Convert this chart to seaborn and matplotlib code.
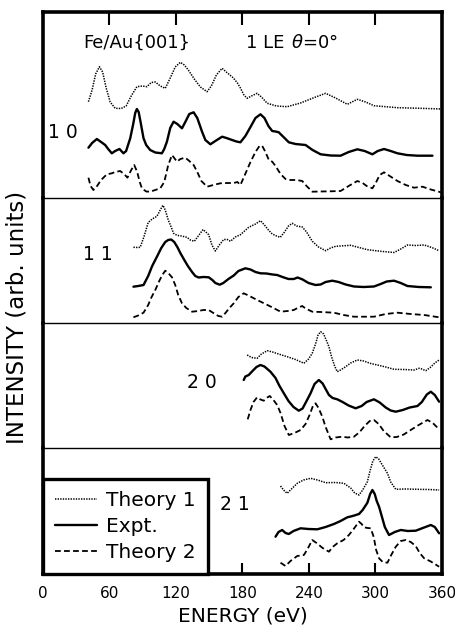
import numpy as np
import matplotlib
matplotlib.use("Agg")
import matplotlib.pyplot as plt
from matplotlib.lines import Line2D
import seaborn as sns

# ---------------- data (energy in eV, intensity in arb. units) ----------------
beams = ["1 0", "1 1", "2 0", "2 1"]
series_names = ["Theory 1", "Expt.", "Theory 2"]
xticks = [0, 60, 120, 180, 240, 300, 360]

# beam 10
b10_t1_e = [41, 44.3, 47.5, 50.9, 53.8, 57, 60.6, 65.1, 70.5, 75, 79.6, 84.7, 89.5, 93.8, 97.6, 101.3, 105.8, 110.3,
            114.8, 119.3, 123.9, 127.5, 131.1, 136.5, 142, 148, 151.9, 156.4, 161.6, 166.4, 171.8, 175.4, 178.1, 181.3,
            184.2, 188.1, 193.2, 197.1, 202.3, 210.7, 220.3, 232.4, 244.4, 255, 264, 274.6, 283.6, 291.1, 298.6, 319.8,
            340.9, 359]
b10_t1_i = [8.3, 20, 36, 43.3, 38, 22, 8, 1.7, 1.5, 4, 14, 23.3, 24, 23.3, 27.5, 28, 24, 21.7,
            32, 43, 47.7, 45, 40, 31, 23, 18.3, 24, 35, 41.7, 37, 32, 27, 22, 15,
            11.7, 14, 16.7, 13, 6.7, 4, 3.3, 7, 12.3, 16.7, 12, 5.7, 10.7, 8, 4.3, 2.3,
            1.7, 1]
b10_ex_e = [41, 44.3, 48.6, 52.4, 56.1, 58.8, 62.1, 65.1, 69, 72.6, 75, 78.7, 81.4, 83.2, 84.7, 86.3, 88.2, 90.7,
            93.1, 96.7, 101.3, 107.3, 109.4, 111.8, 114.8, 117.8, 121.2, 125.4, 128.4, 132, 135.9, 139.2, 143.5, 146.5,
            151, 155.5, 161.6, 165.5, 170.6, 174.5, 178.1, 182.6, 187.2, 191.7, 196.2, 199.8, 203.4, 206.8, 209.8,
            212.7, 217, 221.8, 227.8, 236.9, 243.2, 250.5, 259.5, 268.5, 275.8, 283.6, 290.2, 297.2, 302, 307.7, 313.7,
            319.8, 328.2, 337.9, 351.4]
b10_ex_i = [8.3, 13, 17, 14, 11, 7, 2.7, 5, 7, 2.7, 5, 17.7, 32, 43, 47, 44, 33, 17.7,
            11, 6, 3.5, 2.7, 7, 14.3, 28, 34.3, 32, 27.7, 34, 42, 43.7, 38, 24.3, 16,
            11.7, 15, 19.3, 18, 16, 14.5, 13.7, 20, 29, 38, 41.7, 38, 30, 25, 24.5,
            23.7, 19, 13.7, 12, 11, 6, 1.7, 0.5, 0.3, 4, 6.7, 5, 1.7, 5, 7, 5,
            2.7, 1, 0.3, 0.3]
b10_t2_e = [41, 42.9, 45.5, 48.8, 52.4, 57.6, 62.1, 65.1, 69.6, 73.2, 76.2, 79.6, 82.3, 85, 87.3, 89.2, 93.1, 96.7,
            101.3, 105.8, 109.4, 113, 116.4, 118.4, 120.9, 123.9, 128.4, 132, 135.9, 139.2, 142.9, 148, 153.7, 160,
            166.4, 172.1, 175.4, 178.1, 181.7, 187.2, 191.7, 195.3, 197.7, 200.7, 203.8, 206.8, 209.8, 214.3, 218.8,
            223.3, 228.8, 233.9, 237.8, 243, 250.5, 259.5, 268.5, 275.8, 283.6, 288.4, 292, 297.2, 300.2, 303.8, 307.7,
            312.8, 319.8, 327.3, 334.8, 342.4, 349.9, 359]
b10_t2_i = [15.3, 7, 3, 7, 13, 18.7, 19.7, 21, 22, 19, 15.3, 23, 28, 21, 11, 4.7, 1.5, 1.3,
            3, 4.7, 11, 28, 38, 35, 31.3, 34, 35.3, 32, 28, 21, 12, 6.3, 8, 9.7,
            10, 10, 11, 8, 17, 31, 41, 47, 47.3, 41, 33, 31.3, 27, 19, 14,
            13, 13, 12, 7, 1.3, 1.5, 1.7, 2, 7, 12, 10, 7, 4.7, 10, 18, 20.7,
            17, 12, 8, 5.3, 6.3, 3.5, 0.7]

# beam 11
b11_t1_e = [81.6, 85.9, 87.7, 91.3, 94.9, 98.5, 102.8, 105.8, 108.2, 110.3, 113, 114.8, 117.8, 120.9, 124.8, 129.9,
            132.9, 136.5, 140.1, 144.4, 146.9, 149.5, 152.4, 155.5, 159.1, 163, 166.4, 169.1, 173.6, 178.1, 185.6,
            191.7, 196.2, 199.8, 203.4, 206.8, 210.7, 214.1, 217.9, 221.5, 224.9, 228.8, 233.9, 237.8, 243, 248.6,
            255, 259.5, 264, 277.6, 292.7, 304.7, 316.7, 322.8, 328.8, 336.3, 343.9, 350.8, 357.4]
b11_t1_i = [5.7, 5.5, 5.7, 17, 30.5, 34, 36.7, 43, 47.7, 43, 33, 28.3, 19.7, 17.7, 17, 15.7,
            13, 11.7, 17, 23.5, 21, 18.3, 8, 2, 8, 13.5, 13.5, 11.7, 16, 18.3, 25.7,
            29, 32.3, 28, 23, 19, 17, 15.7, 21, 27, 29.7, 27, 26, 21, 11.7, 6,
            2.3, 5, 6.7, 7.7, 3.3, 1.7, 0.5, 4, 8, 7.5, 8, 5.5, 2.3]
b11_ex_e = [81.6, 85.9, 90.7, 94.9, 98.5, 102.8, 106.7, 110.3, 113, 115.7, 118.4, 121.2, 123.9, 127.5, 130.7, 134.5,
            137.4, 140.4, 144.7, 149.5, 152.8, 155.5, 159.4, 162.7, 167.3, 172.1, 176.3, 182.6, 187.2, 191.7, 196.2,
            201.6, 207.1, 211.3, 216.1, 221.5, 226.3, 229.7, 233.9, 239.6, 245.9, 250.5, 255, 261, 266.7, 273.1,
            280.6, 289.3, 298.6, 304.7, 310.1, 316.7, 322.8, 328.8, 339.1, 349.9]
b11_ex_i = [1.3, 2, 3, 12, 22, 31.3, 40, 46, 48, 48.5, 46, 41, 35, 28, 22, 16,
            12, 10.5, 11, 10.7, 8, 5, 3.3, 5, 9, 12.5, 17, 19.7, 18.5, 16, 14.7,
            14.5, 13.5, 13, 11, 9, 9, 10.5, 8.7, 5, 3, 3.5, 6, 7.3, 6, 3.5,
            1.5, 1, 1.5, 4, 6.5, 7.3, 5, 2, 1, 0.7]
b11_t2_e = [81.6, 85.9, 90.7, 94.9, 98, 101.3, 104.9, 107.6, 110.3, 113, 116.4, 119.3, 122, 125.4, 129.3, 134.5,
            140.1, 144.7, 149.5, 153.7, 158.2, 161.6, 164.6, 168.2, 172.1, 176.3, 181.1, 185.4, 193.2, 200.7, 207.1,
            214.3, 220.6, 226.3, 229.7, 233.9, 236.9, 243, 250.5, 262.5, 271.2, 280.6, 298.6, 309.2, 319.8, 331.8,
            343.9, 357.4]
b11_t2_i = [0.7, 2.5, 5.3, 13, 21, 28, 37, 43, 47.3, 45, 40.7, 33, 23, 14.7, 10, 6.3,
            7, 8, 8, 5, 2, 1.3, 5, 10, 14.7, 21, 24.7, 22.5, 18, 14, 10.5,
            6.3, 7, 8, 10, 12, 9.5, 6.3, 6, 5.3, 3, 1.3, 1.3, 4, 5.3, 4,
            3, 0.7]

# beam 20
b20_t1_e = [184.2, 188.1, 193.2, 197.1, 202.3, 207.1, 212.5, 220.3, 227.8, 235.4, 239.6, 242.9, 245.9, 248.2, 250.5,
            253.2, 255.9, 258, 260.4, 263.1, 265.5, 268.5, 273.1, 277.6, 283.6, 289.3, 295.7, 301.7, 309.2, 316.7,
            325.5, 334.8, 339.3, 341.8, 345.4, 349.9, 353.5, 357.4]
b20_t1_i = [17, 14.5, 13.7, 18, 21.3, 20, 18, 15.3, 12.5, 8.7, 13, 18.7, 28, 37, 40.3,
            38, 31, 25.3, 15, 6, 0.3, 2, 5.3, 9, 12, 11, 8.5, 7, 5, 2.7,
            2.5, 2, 3.7, 3, 1.3, 5, 9, 12]
b20_ex_e = [181.1, 182.6, 185.6, 189, 192.6, 196.2, 199.8, 205.2, 209.8, 213.4, 217.3, 221.5, 226, 230.8, 234.2,
            237.8, 241.4, 245, 248.9, 252.3, 255, 258, 261.3, 265.5, 270.3, 275.7, 282.1, 287.5, 292, 298.6, 303.8,
            309.2, 313.7, 318.3, 324.6, 330.9, 337.9, 341.8, 346.3, 349.9, 353.5, 357.4]
b20_ex_i = [32, 35.5, 37, 41, 45, 47, 45.5, 40.3, 34, 26, 18.7, 11, 5, 1.3, 3.5,
            11, 18.7, 28, 32, 28.5, 23, 17, 14, 12.7, 10, 6.5, 3.7, 6, 10, 12.7, 9.5,
            4.5, 1.5, 0.3, 2, 4.5, 6, 10, 17.5, 20.3, 17, 10.3]
b20_t2_e = [184.7, 187.2, 189.9, 193.2, 196.2, 199.2, 201.6, 204.6, 207.9, 211.3, 214.3, 217.9, 221.8, 226.9, 232.4,
            236.9, 240.5, 243.7, 245.9, 248.6, 252, 255, 259.5, 264, 270.1, 274.9, 280.6, 285.7, 290.2, 294.8, 298.6,
            302.9, 307.4, 313.7, 319.2, 325.5, 331.8, 339, 346.9, 351.7, 357.4]
b20_t2_i = [20.7, 30, 38, 42.7, 40.5, 39.3, 42, 44, 40, 35, 27, 14, 5, 7, 10,
            16, 25, 34.5, 36.7, 32, 23.3, 13, 0.7, 2.5, 3.3, 2.5, 3.3, 8, 14, 19, 20,
            16, 9, 2.7, 3, 5.5, 10, 15, 20, 17, 10.7]

# beam 21
b21_t1_e = [214.3, 217, 220.3, 224.2, 229.4, 235.1, 241.4, 247.7, 255, 264, 271.5, 277.6, 281.2, 285.1, 288.4, 292.7,
            294.8, 297.6, 300.2, 302.9, 305.6, 310.8, 313.7, 318.3, 327.3, 337.9, 348.1, 357.4]
b21_t1_i = [9, 5, 1.7, 6, 11.7, 15, 16.7, 15, 12.3, 12.5, 11.7, 7, 2, 0, 5, 13.3,
            23, 34, 38.3, 36, 31, 21.7, 13, 5.7, 6, 5.7, 5.5, 5]
b21_ex_e = [209.8, 212.5, 215.8, 218.8, 221.8, 226, 232.4, 239.6, 247.5, 255, 262.5, 268.5, 274.6, 279.4, 285.1,
            288.4, 292.7, 295.2, 297.2, 299.3, 301.1, 303.2, 305.6, 308.4, 312.2, 317.4, 322.8, 329.1, 336.3, 342.7,
            349.9, 353.5, 357.4]
b21_ex_i = [0.3, 5, 7, 4, 3, 6, 8.7, 8, 7.7, 10, 13, 16, 19.7, 21, 23,
            27, 34.3, 43, 47, 43, 36, 30.3, 21, 10, 2, 5, 7, 6, 6.3, 9,
            12, 10, 3.7]
b21_t2_e = [214.3, 218.8, 223.3, 229.4, 235.4, 238.7, 242.9, 246.8, 252.3, 258, 261.3, 265.5, 271.2, 276, 280.3,
            285.1, 287.5, 289.6, 292.9, 295.7, 298.4, 300.6, 303.2, 306.5, 310.8, 313.7, 318.3, 322.8, 327.3, 331.8,
            336.3, 339.9, 343.9, 349.9, 357.4]
b21_t2_i = [4.3, 1, 6, 11, 12, 18, 27, 24, 19, 15.3, 20, 23.7, 27, 32, 38,
            45.3, 43, 39.7, 39, 38.7, 30, 17, 8.7, 5, 4.3, 11, 20.3, 26, 27, 25,
            21, 14, 8.7, 5.5, 0.3]

curves = {
    "1 0": [(b10_t1_e, b10_t1_i), (b10_ex_e, b10_ex_i), (b10_t2_e, b10_t2_i)],
    "1 1": [(b11_t1_e, b11_t1_i), (b11_ex_e, b11_ex_i), (b11_t2_e, b11_t2_i)],
    "2 0": [(b20_t1_e, b20_t1_i), (b20_ex_e, b20_ex_i), (b20_t2_e, b20_t2_i)],
    "2 1": [(b21_t1_e, b21_t1_i), (b21_ex_e, b21_ex_i), (b21_t2_e, b21_t2_i)],
}

# ---------------- layout / style ----------------
offsets = {"1 0": [88, 42, 5], "1 1": [70, 35, 5], "2 0": [76, 36, 8], "2 1": [79, 37, 7]}
panel_h = {"1 0": 186, "1 1": 125, "2 0": 125, "2 1": 126}
styles = [dict(linestyle=(0, (0.9, 0.8)), linewidth=1.1),
          dict(linestyle="-", linewidth=1.7),
          dict(linestyle=(0, (3.2, 1.8)), linewidth=1.3)]
label_pos = {"1 0": (48, 132), "1 1": (83, 255), "2 0": (187, 382), "2 1": (220, 505)}

sns.set_theme(style="white")
plt.rcParams["font.family"] = ["DejaVu Sans"]
plt.rcParams["text.color"] = "black"
plt.rcParams["xtick.color"] = "black"
plt.rcParams["xtick.labelcolor"] = "black"

W, H = 456, 627
fig = plt.figure(figsize=(W / 100, H / 100), dpi=100)
left, right, top, bottom = 43, 442, 12, 574
gs = fig.add_gridspec(4, 1, left=left / W, right=right / W, top=1 - top / H, bottom=1 - bottom / H,
                      hspace=0, height_ratios=[panel_h[b] for b in beams])
axes = [fig.add_subplot(gs[i]) for i in range(4)]

for i, (ax, b) in enumerate(zip(axes, beams)):
    for j, (e, inten) in enumerate(curves[b]):
        y = np.asarray(inten) + offsets[b][j]
        sns.lineplot(x=e, y=y, ax=ax, color="black", estimator=None, sort=False,
                     legend=False, **styles[j])
    ax.set_xlim(0, 360)
    ax.set_ylim(0, panel_h[b])
    ax.set_yticks([])
    ax.set_ylabel("")
    ax.set_xlabel("")
    ax.set_facecolor("white")
    for s in ["left", "right"]:
        ax.spines[s].set_visible(True)
        ax.spines[s].set_linewidth(2.6)
        ax.spines[s].set_color("black")
    ax.spines["top"].set_visible(True)
    ax.spines["top"].set_color("black")
    ax.spines["top"].set_linewidth(2.6 if i == 0 else 1.0)
    ax.spines["bottom"].set_visible(i == 3)
    ax.spines["bottom"].set_color("black")
    ax.spines["bottom"].set_linewidth(2.6)
    ax.set_xticks(xticks)
    if i == 0:
        ax.tick_params(axis="x", which="both", top=True, bottom=False, labeltop=False, labelbottom=False,
                       direction="in", length=9, width=1.5, color="black")
    elif i == 3:
        ax.tick_params(axis="x", which="both", top=False, bottom=True, labelbottom=True,
                       direction="in", length=8, width=1.5, color="black", pad=9, labelsize=11,
                       labelcolor="black")
    else:
        ax.tick_params(axis="x", which="both", top=False, bottom=False, labelbottom=False)

# beam labels
for b in beams:
    x, y = label_pos[b]
    fig.text(x / W, 1 - y / H, b, fontsize=13.5, ha="left", va="center")

# title
fig.text(83 / W, 1 - 43 / H, "Fe/Au{001}", fontsize=13, ha="left", va="center")
fig.text(246 / W, 1 - 43 / H, "1 LE", fontsize=13, ha="left", va="center")
fig.text(291 / W, 1 - 43 / H, r"$\theta$=0°", fontsize=13, ha="left", va="center")

# axis labels
fig.text(243 / W, 1 - 616 / H, "ENERGY (eV)", fontsize=14.5, ha="center", va="center")
fig.text(17 / W, 1 - 317 / H, "INTENSITY (arb. units)", fontsize=16.5, ha="center", va="center",
         rotation=90)

# legend
handles = [Line2D([], [], color="black", **styles[k]) for k in range(3)]
leg = axes[3].legend(handles, series_names, loc="lower left", bbox_to_anchor=(0, 0),
                     frameon=True, fancybox=False, framealpha=1, edgecolor="black",
                     fontsize=14.5, handlelength=2.1, handletextpad=0.45, borderaxespad=0,
                     labelspacing=0.35, borderpad=0.6)
leg.get_frame().set_linewidth(2.4)
for t in leg.get_texts():
    t.set_color("black")

fig.savefig("out.png", dpi=100)
